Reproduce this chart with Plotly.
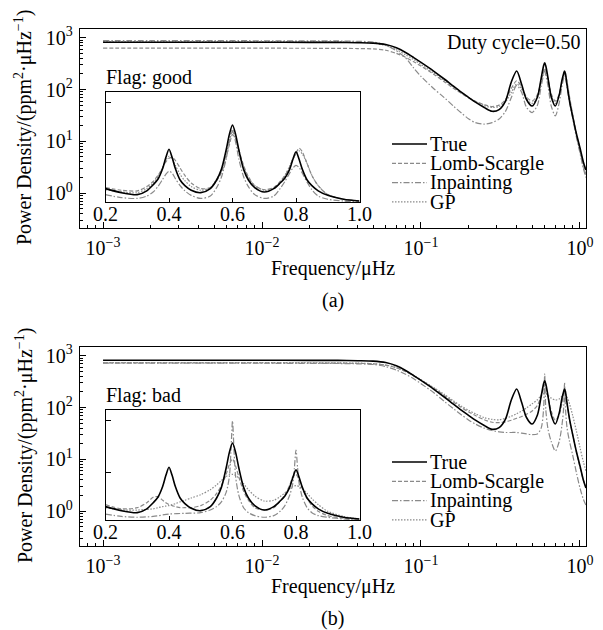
import plotly.graph_objects as go

# ---------------- data ----------------
FREQ = [0.001, 0.002, 0.005, 0.01, 0.02, 0.03, 0.04, 0.05, 0.06, 0.07, 0.08, 0.09, 0.1,
        0.12, 0.14, 0.16, 0.18, 0.2, 0.22, 0.25, 0.28, 0.31, 0.34, 0.37, 0.4, 0.43, 0.46,
        0.5, 0.54, 0.57, 0.59, 0.6, 0.61, 0.63, 0.66, 0.7, 0.74, 0.77, 0.79, 0.8, 0.81,
        0.83, 0.86, 0.9, 0.95, 1.0, 1.05, 1.09]

TRUE_PSD = [820, 820, 820, 820, 818, 815, 805, 790, 740, 640, 520, 415, 335, 228, 160, 116, 88, 70,
            57, 45, 38, 41, 60, 140, 228, 125, 65, 48, 72, 165, 285, 330, 285, 165, 72, 48, 78,
            150, 205, 228, 205, 120, 60, 30, 14, 7.5, 4, 2.8]

LS_A = [630, 630, 630, 630, 628, 625, 620, 610, 575, 500, 420, 345, 285, 198, 142, 106, 84, 69,
        59, 51, 47, 50, 64, 105, 148, 112, 72, 60, 80, 150, 215, 245, 225, 160, 82, 60, 82,
        140, 185, 200, 195, 140, 72, 33, 14, 7, 3.6, 2.4]
INP_A = [880, 880, 880, 878, 875, 870, 855, 830, 720, 560, 410, 260, 180, 105, 70, 48, 35, 27,
         23, 21.5, 23, 27, 38, 70, 120, 88, 46, 36, 50, 115, 190, 225, 190, 115, 48, 31, 55,
         115, 165, 185, 170, 110, 55, 28, 12, 6, 3, 2]
GP_A = [840, 840, 840, 840, 838, 835, 825, 790, 710, 590, 470, 380, 305, 210, 150, 112, 87, 70,
        59, 49, 45, 47, 58, 88, 128, 102, 66, 54, 72, 140, 225, 255, 230, 150, 74, 54, 76,
        138, 190, 208, 200, 130, 66, 31, 13, 6.5, 3.3, 2.2]

LS_B = [730, 730, 730, 728, 726, 722, 715, 700, 660, 585, 495, 410, 340, 238, 172, 128, 100, 82,
        70, 58, 52, 51, 53, 57, 62, 67, 74, 86, 110, 170, 240, 280, 250, 160, 85, 57, 72,
        122, 180, 210, 185, 115, 58, 30, 14, 7, 4, 3]
INP_B = [720, 720, 720, 718, 715, 710, 700, 680, 620, 530, 440, 360, 290, 195, 132, 95, 72, 57,
         48, 40, 36, 34, 33, 33, 33, 32, 31, 30, 31, 40, 90, 450, 90, 38, 22, 14.5, 22,
         45, 100, 300, 100, 40, 22, 12, 5.5, 2.8, 1.7, 1.3]
GP_B = [740, 740, 740, 738, 735, 730, 722, 705, 665, 590, 500, 415, 345, 245, 180, 135, 106, 88,
        76, 64, 59, 58, 62, 68, 76, 86, 98, 118, 142, 170, 185, 190, 186, 172, 152, 140, 146,
        165, 180, 185, 180, 160, 118, 70, 35, 17, 9, 6]

# inset (linear frequency 0.2 - 1.0)
IN_FREQ = [0.2, 0.25, 0.3, 0.33, 0.35, 0.365, 0.38, 0.39, 0.4, 0.41, 0.42, 0.435, 0.45, 0.47,
           0.5, 0.53, 0.55, 0.565, 0.58, 0.59, 0.6, 0.61, 0.62, 0.635, 0.65, 0.67, 0.7, 0.73,
           0.75, 0.765, 0.78, 0.79, 0.8, 0.81, 0.82, 0.835, 0.85, 0.87, 0.9, 0.95, 1.0]
IN_TRUE = [2.1, 1.75, 1.6, 1.9, 2.5, 3.2, 5.2, 8.5, 12.4, 8.5, 5.2, 3.1, 2.4, 1.95, 1.75, 2.1,
           3.1, 5.0, 12, 24, 37, 24, 12, 5.0, 3.1, 2.2, 1.8, 2.1, 2.7, 3.4, 5.0, 7.8, 11, 7.8,
           5.0, 3.1, 2.4, 1.9, 1.55, 1.3, 1.2]
IN_LS_A = [2.2, 1.95, 1.9, 2.3, 2.9, 3.8, 5.3, 7.0, 8.3, 8.6, 7.5, 5.3, 3.8, 2.7, 2.1, 2.2, 3.0,
           4.3, 8.5, 15, 24, 20, 12, 6.0, 3.6, 2.4, 2.0, 2.2, 2.9, 3.8, 5.5, 7.8, 10.5, 13, 11,
           6.5, 3.8, 2.4, 1.6, 1.3, 1.2]
IN_INP_A = [1.6, 1.4, 1.35, 1.5, 1.8, 2.3, 3.2, 4.0, 4.6, 4.2, 3.3, 2.4, 1.9, 1.55, 1.35, 1.5,
            2.2, 3.5, 8, 17, 28, 17, 8, 3.6, 2.3, 1.6, 1.35, 1.5, 2.1, 2.9, 4.2, 5.3, 6.0, 5.4,
            4.2, 2.8, 2.0, 1.5, 1.3, 1.2, 1.15]
IN_GP_A = [2.0, 1.8, 1.75, 2.1, 2.7, 3.6, 5.5, 7.5, 9.0, 8.0, 6.0, 4.0, 3.0, 2.3, 1.95, 2.2, 3.2,
           4.8, 10, 19, 30, 20, 11, 5.5, 3.4, 2.4, 1.95, 2.1, 2.8, 3.8, 5.8, 8.0, 10, 11.5, 10,
           6.5, 3.8, 2.4, 1.6, 1.3, 1.2]
IN_LS_B = [2.3, 1.9, 2.0, 2.5, 3.2, 3.3, 2.8, 2.5, 2.3, 2.2, 2.1, 2.0, 2.0, 2.0, 2.2, 2.8, 3.8,
           5.5, 9, 14, 18, 13, 8, 4.2, 2.8, 2.0, 1.8, 2.0, 2.7, 3.6, 5.5, 8, 9, 7, 4.8, 3.0,
           2.2, 1.7, 1.4, 1.25, 1.2]
IN_GP_B = [2.0, 1.8, 1.8, 1.85, 1.9, 2.0, 2.1, 2.15, 2.2, 2.3, 2.4, 2.6, 2.8, 3.1, 3.6, 4.5, 5.6,
           6.8, 8.2, 8.8, 9.0, 8.6, 7.6, 5.9, 4.5, 3.4, 2.7, 2.8, 3.3, 3.9, 4.7, 5.2, 5.4, 5.2,
           4.7, 3.8, 3.0, 2.3, 1.7, 1.35, 1.2]
IN_FREQ_SPIKE = [0.2, 0.25, 0.3, 0.35, 0.4, 0.45, 0.5, 0.53, 0.55, 0.565, 0.58, 0.59, 0.595, 0.6,
                 0.605, 0.61, 0.62, 0.635, 0.65, 0.67, 0.7, 0.73, 0.75, 0.765, 0.78, 0.79,
                 0.795, 0.8, 0.805, 0.81, 0.82, 0.835, 0.85, 0.87, 0.9, 0.95, 1.0]
IN_INP_B = [1.5, 1.35, 1.3, 1.35, 1.5, 1.55, 1.6, 1.8, 2.1, 2.6, 4, 8, 25, 100, 25, 8, 3.5, 2.0,
            1.6, 1.4, 1.3, 1.4, 1.7, 2.2, 3.5, 6, 12, 27, 12, 6, 3.2, 2.0, 1.6, 1.4, 1.3, 1.2,
            1.15]

SERIES = ["True", "Lomb-Scargle", "Inpainting", "GP"]
X_TICKS_MAIN = [0.001, 0.01, 0.1, 1]
X_TICKTEXT_MAIN = ["10<sup>−3</sup>", "10<sup>−2</sup>", "10<sup>−1</sup>", "10<sup>0</sup>"]
Y_TICKS_MAIN = [1, 10, 100, 1000]
Y_TICKTEXT_MAIN = ["10<sup>0</sup>", "10<sup>1</sup>", "10<sup>2</sup>", "10<sup>3</sup>"]
X_TICKS_IN = [0.2, 0.4, 0.6, 0.8, 1.0]

# ---------------- style ----------------
FONT = "Liberation Serif, Times New Roman, serif"
FS = 20
GRAY = "#8a8a8a"
STY = {
    "True": dict(color="black", width=1.6, dash="solid"),
    "Lomb-Scargle": dict(color=GRAY, width=1.2, dash="4px,2px"),
    "Inpainting": dict(color=GRAY, width=1.2, dash="6px,2px,1.5px,2px"),
    "GP": dict(color=GRAY, width=1.2, dash="1.5px,1.5px"),
}

# the page body has an 8px margin: the figure is shrunk to fit the 603x630 window
OFF = 8
W, H = 603 - OFF, 630 - OFF


def px(x):
    return (x - OFF) / W


def py(y):
    return 1 - (y - OFF) / H


fig = go.Figure()


def add(x, y, name, xa, ya):
    fig.add_trace(go.Scatter(x=x, y=y, mode="lines", name=name, showlegend=False,
                             line=dict(shape="spline", smoothing=0.8, **STY[name]),
                             xaxis=xa, yaxis=ya, hoverinfo="skip"))


panels = [
    dict(off=0, xa="x", ya="y", ixa="x2", iya="y2",
         main=[FREQ, [TRUE_PSD, LS_A, INP_A, GP_A]],
         ins=[(IN_FREQ, IN_TRUE), (IN_FREQ, IN_LS_A), (IN_FREQ, IN_INP_A), (IN_FREQ, IN_GP_A)],
         flag="Flag: good", tag="(a)"),
    dict(off=318, xa="x3", ya="y3", ixa="x4", iya="y4",
         main=[FREQ, [TRUE_PSD, LS_B, INP_B, GP_B]],
         ins=[(IN_FREQ, IN_TRUE), (IN_FREQ, IN_LS_B), (IN_FREQ_SPIKE, IN_INP_B), (IN_FREQ, IN_GP_B)],
         flag="Flag: bad", tag="(b)"),
]

annotations = []
shapes = []
layout = {}
tf = dict(family=FONT, size=FS, color="black")

for k, p in enumerate(panels):
    o = p["off"]
    f, ys = p["main"]
    for idx in [1, 2, 3, 0]:
        add(f, ys[idx], SERIES[idx], p["xa"], p["ya"])
    for idx in [1, 2, 3, 0]:
        xx, yy = p["ins"][idx]
        add(xx, yy, SERIES[idx], p["ixa"], p["iya"])

    n = 2 * k + 1
    xkey = "xaxis" if n == 1 else f"xaxis{n}"
    ykey = "yaxis" if n == 1 else f"yaxis{n}"
    ikey_x = f"xaxis{n + 1}"
    ikey_y = f"yaxis{n + 1}"

    common = dict(showline=True, linecolor="black", mirror=True, showgrid=False,
                  zeroline=False, automargin=False, tickcolor="black", tickfont=tf)
    layout[xkey] = dict(type="log", range=[-3.145, 0.038], domain=[px(80), px(586)],
                        anchor=p["ya"], linewidth=1.3, ticks="inside", ticklen=6, tickwidth=1,
                        tickvals=X_TICKS_MAIN, ticktext=X_TICKTEXT_MAIN, ticklabelstandoff=2,
                        minor=dict(ticks="inside", ticklen=3, tickcolor="black", dtick="D1",
                                   showgrid=False),
                        **common)
    layout[ykey] = dict(type="log", range=[-0.675, 3.18], domain=[py(228 + o), py(28.5 + o)],
                        anchor=p["xa"], linewidth=1.3, ticks="inside", ticklen=6, tickwidth=1,
                        tickvals=Y_TICKS_MAIN, ticktext=Y_TICKTEXT_MAIN, ticklabelstandoff=2,
                        minor=dict(ticks="inside", ticklen=3, tickcolor="black", dtick="D1",
                                   showgrid=False),
                        **common)
    layout[ikey_x] = dict(range=[0.2, 1.0], domain=[px(105.5), px(359.5)], anchor=p["iya"],
                          linewidth=1.2, ticks="inside", ticklen=4, tickvals=X_TICKS_IN,
                          tickformat=".1f", ticklabelstandoff=-6, **common)
    layout[ikey_y] = dict(type="log", range=[0.06, 2.215], domain=[py(202 + o), py(92 + o)],
                          anchor=p["ixa"], linewidth=1.2, ticks="inside", ticklen=5,
                          tickvals=[10, 100], showticklabels=False, **common)

    annotations += [
        dict(x=px(24), y=py(128 + o), xref="paper", yref="paper", textangle=-90,
             xanchor="center", yanchor="middle",
             text="Power Density/(ppm<sup>2</sup>·μHz<sup>−1</sup>)", showarrow=False, font=tf),
        dict(x=px(333), y=py(268 + o), xref="paper", yref="paper", text="Frequency/μHz",
             xanchor="center", yanchor="middle", showarrow=False, font=tf),
        dict(x=px(333), y=py(300 + o), xref="paper", yref="paper", text=p["tag"],
             xanchor="center", yanchor="middle", showarrow=False, font=tf),
        dict(x=px(104), y=py(77 + o), xref="paper", yref="paper", xanchor="left",
             yanchor="middle", text=p["flag"], showarrow=False, font=tf),
    ]
    for j, name in enumerate(SERIES):
        yy = 144 + 19.3 * j + o
        shapes.append(dict(type="line", xref="paper", yref="paper", x0=px(392), x1=px(427),
                           y0=py(yy), y1=py(yy), line=STY[name]))
        annotations.append(dict(x=px(428), y=py(yy), xref="paper", yref="paper",
                                xanchor="left", yanchor="middle", text=name,
                                showarrow=False, font=tf))

annotations.append(dict(x=px(582), y=py(43), xref="paper", yref="paper", xanchor="right",
                        yanchor="middle", text="Duty cycle=0.50", showarrow=False, font=tf))

fig.update_layout(width=W, height=H, margin=dict(l=0, r=0, t=0, b=0, pad=0),
                  paper_bgcolor="white", plot_bgcolor="white", font=tf,
                  annotations=annotations, shapes=shapes, **layout)

fig.write_html("out.html")
